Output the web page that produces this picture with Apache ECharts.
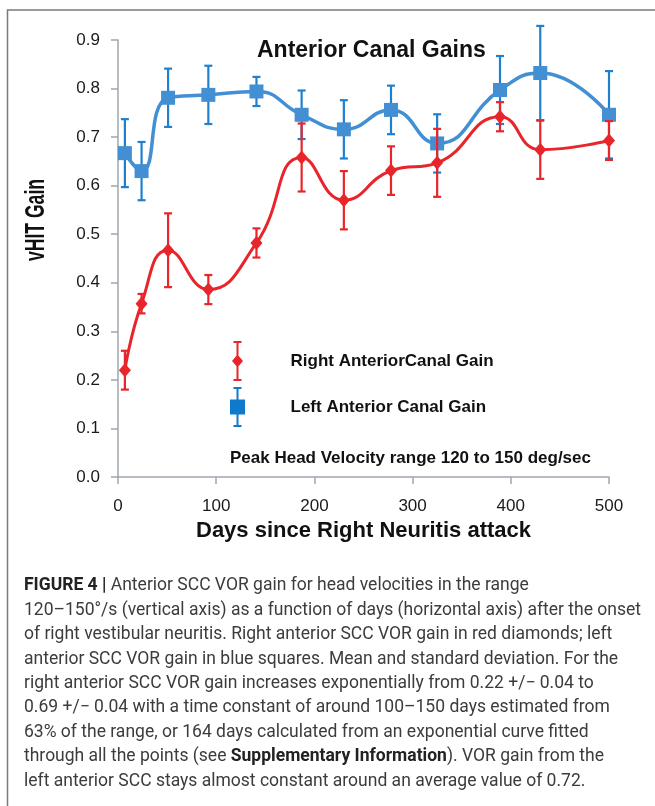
<!DOCTYPE html>
<html>
<head>
<meta charset="utf-8">
<script src="https://cdn.jsdelivr.net/npm/echarts@6/dist/echarts.min.js"></script>
<style>
html,body{margin:0;padding:0;background:#fff;}
#chart{width:655px;height:806px;}
</style>
</head>
<body>
<div id="chart"></div>
<script>
// ---------- data ----------
const days = [7, 24, 51, 92, 141, 187, 230, 278, 325, 389, 430, 500];
const leftGain  = [0.667, 0.630, 0.781, 0.787, 0.794, 0.746, 0.716, 0.756, 0.687, 0.797, 0.832, 0.746];
const leftSD    = [0.070, 0.060, 0.060, 0.060, 0.030, 0.050, 0.060, 0.050, 0.060, 0.070, 0.097, 0.090];
const rightGain = [0.220, 0.357, 0.467, 0.386, 0.482, 0.658, 0.570, 0.631, 0.647, 0.742, 0.674, 0.693];
const rightSD   = [0.040, 0.020, 0.076, 0.030, 0.030, 0.070, 0.060, 0.050, 0.070, 0.030, 0.060, 0.040];
const xTicks = [0, 100, 200, 300, 400, 500];
const yTicks = [0.0, 0.1, 0.2, 0.3, 0.4, 0.5, 0.6, 0.7, 0.8, 0.9];

const rightName = 'Right AnteriorCanal Gain';
const leftName = 'Left Anterior Canal Gain';
const titleText = 'Anterior Canal Gains';
const noteText = 'Peak Head Velocity range 120 to 150 deg/sec';
const xName = 'Days since Right Neuritis attack';
const yName = 'vHIT Gain';
const captionLines = [
  '{b|FIGURE 4 |} Anterior SCC VOR gain for head velocities in the range',
  '120–150°/s (vertical axis) as a function of days (horizontal axis) after the onset',
  'of right vestibular neuritis. Right anterior SCC VOR gain in red diamonds; left',
  'anterior SCC VOR gain in blue squares. Mean and standard deviation. For the',
  'right anterior SCC VOR gain increases exponentially from 0.22 +/− 0.04 to',
  '0.69 +/− 0.04 with a time constant of around 100–150 days estimated from',
  '63% of the range, or 164 days calculated from an exponential curve fitted',
  'through all the points (see {b|Supplementary Information}). VOR gain from the',
  'left anterior SCC stays almost constant around an average value of 0.72.'
];

// ---------- styles ----------
const RED = '#e8252b';
const BLUE = '#4290d3';
const BLUE_BAR = '#1f80cf';
const AXIS = '#9ea6ad';
const FONT = '"Liberation Sans", Arial, sans-serif';
const CAPFONT = 'Roboto, "Liberation Sans", sans-serif';

const chart = echarts.init(document.getElementById('chart'), null, {renderer: 'canvas'});

function errSeries(name, gain, sd, color) {
  return {
    name: name + ' SD',
    type: 'custom',
    data: days.map((d, i) => [d, gain[i] - sd[i], gain[i] + sd[i]]),
    encode: {x: 0, y: [1, 2]},
    z: color === RED ? 4 : 2,
    silent: true,
    renderItem: function (params, api) {
      const x = api.value(0);
      const lo = api.coord([x, api.value(1)]);
      const hi = api.coord([x, api.value(2)]);
      const w = 4;
      const st = {stroke: color, lineWidth: 2.2};
      return {
        type: 'group',
        children: [
          {type: 'line', shape: {x1: hi[0], y1: hi[1], x2: lo[0], y2: lo[1]}, style: st},
          {type: 'line', shape: {x1: hi[0] - w, y1: hi[1], x2: hi[0] + w, y2: hi[1]}, style: st},
          {type: 'line', shape: {x1: lo[0] - w, y1: lo[1], x2: lo[0] + w, y2: lo[1]}, style: st}
        ]
      };
    }
  };
}

// measure caption width for horizontal fit
const mctx = document.createElement('canvas').getContext('2d');
const capSize = 17.5;
mctx.font = capSize + 'px ' + CAPFONT;
const capScale = 617 / mctx.measureText(captionLines[1]).width;

const graphics = [
  {type: 'polyline', silent: true, shape: {points: [[7.5, 806], [7.5, 10], [655, 10]]},
   style: {stroke: '#7a7a7a', lineWidth: 1.5, fill: null}},
  {type: 'text', x: 230, y: 458, silent: true,
   style: {text: noteText, font: 'bold 17px ' + FONT, fill: '#111', verticalAlign: 'middle'}},
  {type: 'text', x: 37, y: 220, rotation: Math.PI / 2, scaleX: 82 / (4.668 * 27), silent: true,
   style: {text: yName, font: 'bold 27px ' + FONT, fill: '#111', align: 'center', verticalAlign: 'middle'}}
];
captionLines.forEach((ln, i) => {
  graphics.push({
    type: 'text', x: 24, y: 586 + i * 24.4, scaleX: capScale, silent: true,
    style: {
      text: ln, fontSize: capSize, fontFamily: CAPFONT, fill: '#3c3c3c', verticalAlign: 'middle',
      rich: {b: {fontSize: capSize, fontFamily: CAPFONT, fontWeight: 'bold', fill: '#222'}}
    }
  });
});

const redIcon = 'path://M1.5 0H9.5V2H1.5Z M1.5 38H9.5V40H1.5Z M4.5 2H6.5V38H4.5Z M5.5 13.5L11 20L5.5 26.5L0 20Z';
const blueIcon = 'path://M3.5 0H11.5V2H3.5Z M3.5 38H11.5V40H3.5Z M6.5 2H8.5V38H6.5Z M0 12.5H15V27.5H0Z';

const option = {
  backgroundColor: '#fff',
  animation: false,
  title: {
    text: titleText, left: 257, top: 39, padding: 0,
    textStyle: {fontFamily: FONT, fontSize: 23, fontWeight: 'bold', color: '#111'}
  },
  legend: {
    orient: 'vertical', left: 230, top: 341, padding: 0,
    itemWidth: 16, itemHeight: 40, itemGap: 6, selectedMode: false,
    textStyle: {fontFamily: FONT, fontSize: 17, fontWeight: 'bold', color: '#111', padding: [0, 0, 0, 40]},
    data: [
      {name: rightName, icon: redIcon, itemStyle: {color: RED}},
      {name: leftName, icon: blueIcon, itemStyle: {color: '#0f7acb'}}
    ]
  },
  grid: {left: 118, right: 46, top: 40, bottom: 329, containLabel: false},
  xAxis: {
    type: 'value', min: xTicks[0], max: xTicks[xTicks.length - 1], interval: 100,
    name: xName, nameLocation: 'middle', nameGap: 35,
    nameTextStyle: {fontFamily: FONT, fontSize: 22, fontWeight: 'bold', color: '#111'},
    axisLine: {show: true, lineStyle: {color: AXIS, width: 1.5}},
    axisTick: {show: true, length: 7, lineStyle: {color: AXIS, width: 1.5}},
    splitLine: {show: false},
    axisLabel: {fontFamily: FONT, fontSize: 17, color: '#1a1a1a', margin: 21}
  },
  yAxis: {
    type: 'value', min: yTicks[0], max: yTicks[yTicks.length - 1], interval: 0.1,
    axisLine: {show: true, lineStyle: {color: AXIS, width: 1.5}},
    axisTick: {show: true, length: 7, lineStyle: {color: AXIS, width: 1.5}},
    splitLine: {show: false},
    axisLabel: {fontFamily: FONT, fontSize: 17, color: '#1a1a1a', margin: 18,
      formatter: v => v.toFixed(1)}
  },
  graphic: graphics,
  series: [
    errSeries(leftName, leftGain, leftSD, BLUE_BAR),
    {
      name: leftName, type: 'line', smooth: 0.5, z: 3,
      data: days.map((d, i) => [d, leftGain[i]]),
      symbol: 'rect', symbolSize: 14, showAllSymbol: true,
      itemStyle: {color: BLUE}, lineStyle: {color: BLUE, width: 3.5}
    },
    errSeries(rightName, rightGain, rightSD, RED),
    {
      name: rightName, type: 'line', smooth: 0.5, z: 5,
      data: days.map((d, i) => [d, rightGain[i]]),
      symbol: 'diamond', symbolSize: [12, 14], showAllSymbol: true,
      itemStyle: {color: RED}, lineStyle: {color: RED, width: 3}
    }
  ]
};
chart.setOption(option);
</script>
</body>
</html>
